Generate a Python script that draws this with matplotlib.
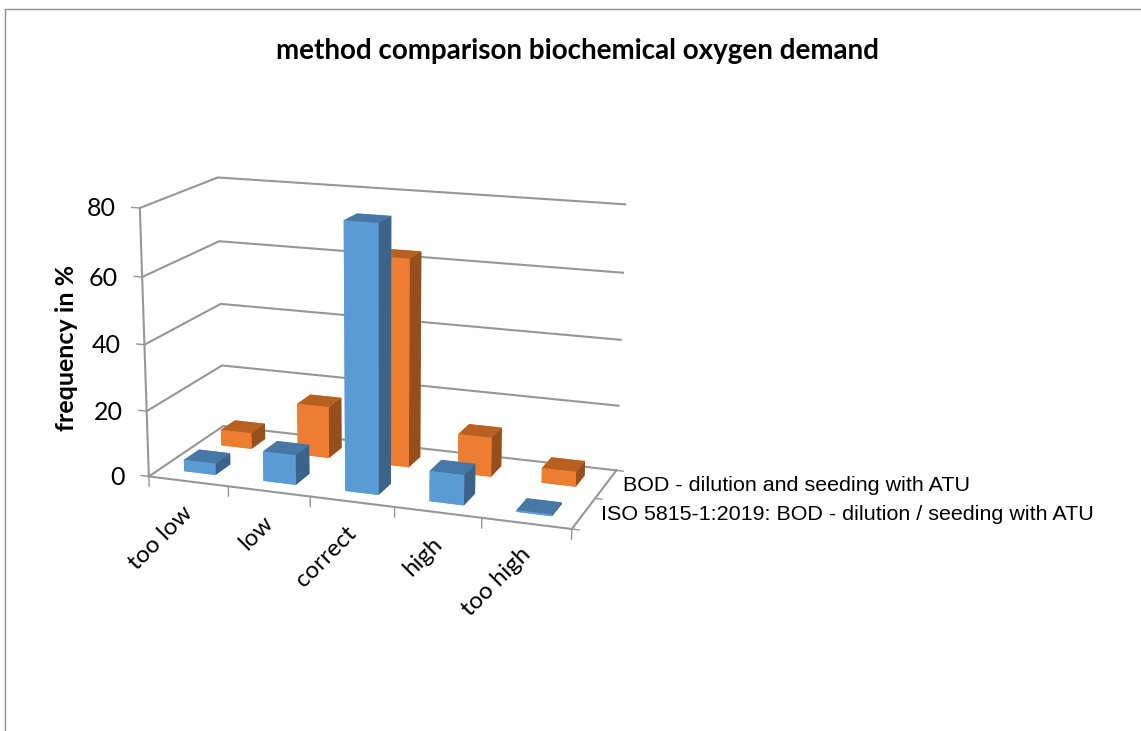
import matplotlib
matplotlib.use('Agg')
import matplotlib.pyplot as plt
from matplotlib.patches import Rectangle
from mpl_toolkits.mplot3d import proj3d

plt.rcParams['font.family'] = ['Lato', 'DejaVu Sans']

categories = ['too low', 'low', 'correct', 'high', 'too high']
series_names = ['ISO 5815-1:2019: BOD - dilution / seeding with ATU', 'BOD - dilution and seeding with ATU']
iso_values = [3.5, 9, 79, 9, 0.5]
bod_values = [5, 16, 63.5, 12, 4.5]
zticks = [0, 20, 40, 60, 80]

# front, top, side
blue_faces = ['#5b9bd5', '#4677a5', '#5b9bd5', '#5b9bd5', '#5b9bd5', '#3b6488']
orange_faces = ['#ed7d31', '#b85f22', '#ed7d31', '#ed7d31', '#ed7d31', '#964f1c']

fig = plt.figure(figsize=(1141 / 100, 731 / 100), dpi=100)
fig.add_artist(Rectangle((5 / 1141, -0.05), 1.1, 1.05 - 9 / 731, transform=fig.transFigure,
                         fill=False, edgecolor='#8c8c8c', lw=1))

s = 535
ax = fig.add_axes([109 / 1141, (731 - 617) / 731, s / 1141, s / 731],
                  projection='3d', proj_type='persp', focal_length=0.66)
ax.view_init(elev=15, azim=-70)
ax.set_box_aspect((2.44, 1.0, 1.53))
ax.set_axis_off()
ax.computed_zorder = False
ax.patch.set_alpha(0)

n = len(categories)
ax.set_xlim(0, n)
ax.set_ylim(0, 2)
ax.set_zlim(0, 80)


# text in 2D at a 3D point, shifted by some pixels
def label(x, y, z, txt, dx, dy, **kw):
    px, py, _ = proj3d.proj_transform(x, y, z, ax.get_proj())
    ax.annotate(txt, xy=(px, py), xycoords='data', xytext=(dx * 0.72, dy * 0.72),
                textcoords='offset points', annotation_clip=False, color='black', **kw)


grid = '#969696'
for v in zticks:
    ax.plot([0, 0, n], [0, 2, 2], [v, v, v], color=grid, lw=1.5, zorder=1)
    ax.plot([-0.1, 0], [0, 0], [v, v], color=grid, lw=1, zorder=1)
    label(0, 0, v, str(v), -24, -1, ha='right', va='center', fontsize=18)
ax.plot([0, 0], [0, 0], [0, 80], color=grid, lw=1.5, zorder=1)
ax.plot([0, n, n], [0, 0, 2], [0, 0, 0], color=grid, lw=1.5, zorder=1)

for i in range(n + 1):
    ax.plot([i, i], [0, 0], [0, -3], color=grid, lw=1, zorder=1)
for j in range(3):
    ax.plot([n, n + 0.08], [j, j], [0, 0], color=grid, lw=1, zorder=1)

w = 0.4
d = 0.4
for k, (vals, faces) in enumerate([(iso_values, blue_faces), (bod_values, orange_faces)]):
    for i, v in enumerate(vals):
        ax.bar3d(i + 0.5 - w / 2, k + 0.5 - d / 2, 0, w, d, v, color=faces, shade=False,
                 zorder=2 + (1 - k) * 10 + i)

for i, c in enumerate(categories):
    label(i + 0.5, 0, 0, c, 1, -28, rotation=45, rotation_mode='anchor', ha='right', va='center',
          fontsize=17.3)
for k, name in enumerate(series_names):
    label(n, k + 0.5, 0, name, 17, -1, ha='left', va='center', fontsize=15.45, family='Liberation Sans')

fig.text(578 / 1141, 1 - 51 / 731, 'method comparison biochemical oxygen demand', ha='center', va='center',
         fontsize=20, fontweight='bold', color='black')
fig.text(67 / 1141, 1 - 348 / 731, 'frequency in %', rotation=90, ha='center', va='center',
         fontsize=18, fontweight='bold', color='black')

fig.savefig('out.png', dpi=100)
